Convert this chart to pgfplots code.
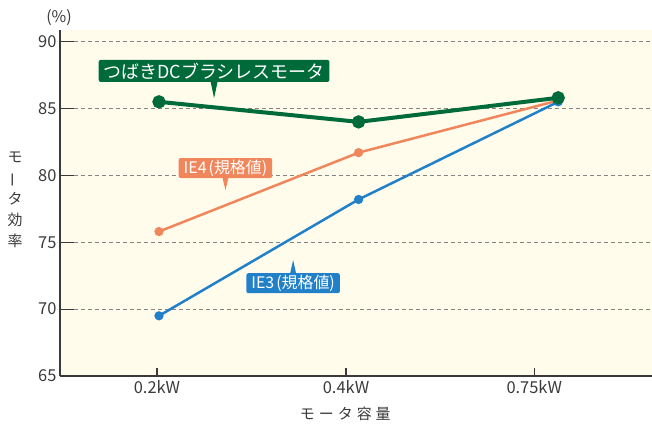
\documentclass[border=0pt]{standalone}
\usepackage{pgfplots}
\pgfplotsset{compat=1.18}
\usepackage{fontspec}
\setmainfont{Noto Sans CJK JP}
\definecolor{bg}{HTML}{FFFCEC}
\definecolor{dcgreen}{HTML}{006B3A}
\definecolor{ieorange}{HTML}{F0875C}
\definecolor{ieblue}{HTML}{2180C8}
\definecolor{axc}{HTML}{3A3A3A}
\definecolor{gridc}{HTML}{858585}
\begin{document}
\begin{tikzpicture}
\begin{axis}[
  at={(0,0)}, anchor=south west,
  scale only axis, width=592bp, height=346bp,
  xmin=-0.496, xmax=2.47, ymin=65, ymax=90.87,
  axis x line*=bottom, axis y line*=left,
  axis line style={axc, line width=1.2pt},
  axis background/.style={fill=bg},
  ytick={65,70,75,80,85,90},
  xtick={-0.01,0.937,1.88},
  xticklabels={0.2kW,0.4kW,0.75kW},
  tick align=inside, major tick length=14bp,
  x tick style={draw=none},
  y tick style={axc, line width=1.2pt},
  ymajorgrids,
  grid style={gridc, line width=0.8pt, dash pattern=on 4pt off 3pt},
  /pgf/number format/assume math mode=true,
  tick label style={font=\fontsize{16.5}{16.5}\selectfont, text=axc},
  xticklabel style={yshift=-1bp},
  xlabel={モ\hspace{4bp}ー\hspace{4bp}タ\hspace{4bp}容\hspace{4bp}量},
  xlabel style={at={(axis description cs:0.482,0)}, anchor=center, yshift=-38bp, font=\fontsize{15}{15}\selectfont, text=axc},
  ylabel={モ\\\rotatebox[origin=c]{90}{ー}\\タ\\効\\率},
  ylabel style={rotate=-90, at={(axis description cs:0,0.509)}, anchor=center, xshift=-45bp, align=center, font=\fontsize{15}{21}\selectfont, text=axc},
  clip=false,
]
\addplot[ieorange, line width=2.5bp, mark=*, mark size=3.3bp, mark options={draw=none, fill=ieorange}]
  coordinates {(0,75.8) (1,81.7) (2,85.6)};
\addplot[ieblue, line width=2.5bp, mark=*, mark size=3.3bp, mark options={draw=none, fill=ieblue}]
  coordinates {(0,69.5) (1,78.2) (2,85.5)};
\addplot[dcgreen, line width=4bp, mark=*, mark size=4.6bp, mark options={draw=none, fill=dcgreen}]
  coordinates {(0,85.5) (1,84.0) (2,85.8)};

% x ticks
\pgfplotsinvokeforeach{-0.01,0.937,1.88}{
  \draw[axc, line width=1.2pt] (axis cs:#1,65) -- ([yshift=8bp]axis cs:#1,65);
}
% callouts
\node[fill=dcgreen, text=white, rounded corners=2bp, inner xsep=5bp, inner ysep=0pt, minimum height=22bp,
  font=\fontsize{18}{18}\selectfont] (g) at (axis cs:0.276,87.81) {つばきDCブラシレスモータ};
\fill[dcgreen] ([xshift=-3.5bp,yshift=0.5bp]g.south) -- ([xshift=3.5bp,yshift=0.5bp]g.south) -- ([yshift=-16bp]g.south) -- cycle;

\node[fill=ieorange, text=white, rounded corners=2bp, inner xsep=5bp, inner ysep=0pt, minimum height=20bp,
  font=\fontsize{16}{16}\selectfont] (o) at (axis cs:0.333,80.55) {IE4\kern2bp(規格値)};
\fill[ieorange] ([xshift=-3bp,yshift=0.5bp]o.south) -- ([xshift=3bp,yshift=0.5bp]o.south) -- ([yshift=-12bp]o.south) -- cycle;

\node[fill=ieblue, text=white, rounded corners=2bp, inner xsep=5bp, inner ysep=0pt, minimum height=20bp,
  font=\fontsize{16}{16}\selectfont] (b) at (axis cs:0.672,71.94) {IE3\kern2bp(規格値)};
\fill[ieblue] ([xshift=-3bp,yshift=-0.5bp]b.north) -- ([xshift=3bp,yshift=-0.5bp]b.north) -- ([yshift=13bp]b.north) -- cycle;

\node[font=\fontsize{16}{16}\selectfont, text=axc] at ([xshift=-1bp,yshift=12bp]rel axis cs:0,1) {(\%)};
\end{axis}
\pgfresetboundingbox
\useasboundingbox (-60bp,-50bp) rectangle (592bp,376bp);
\end{tikzpicture}
\end{document}
